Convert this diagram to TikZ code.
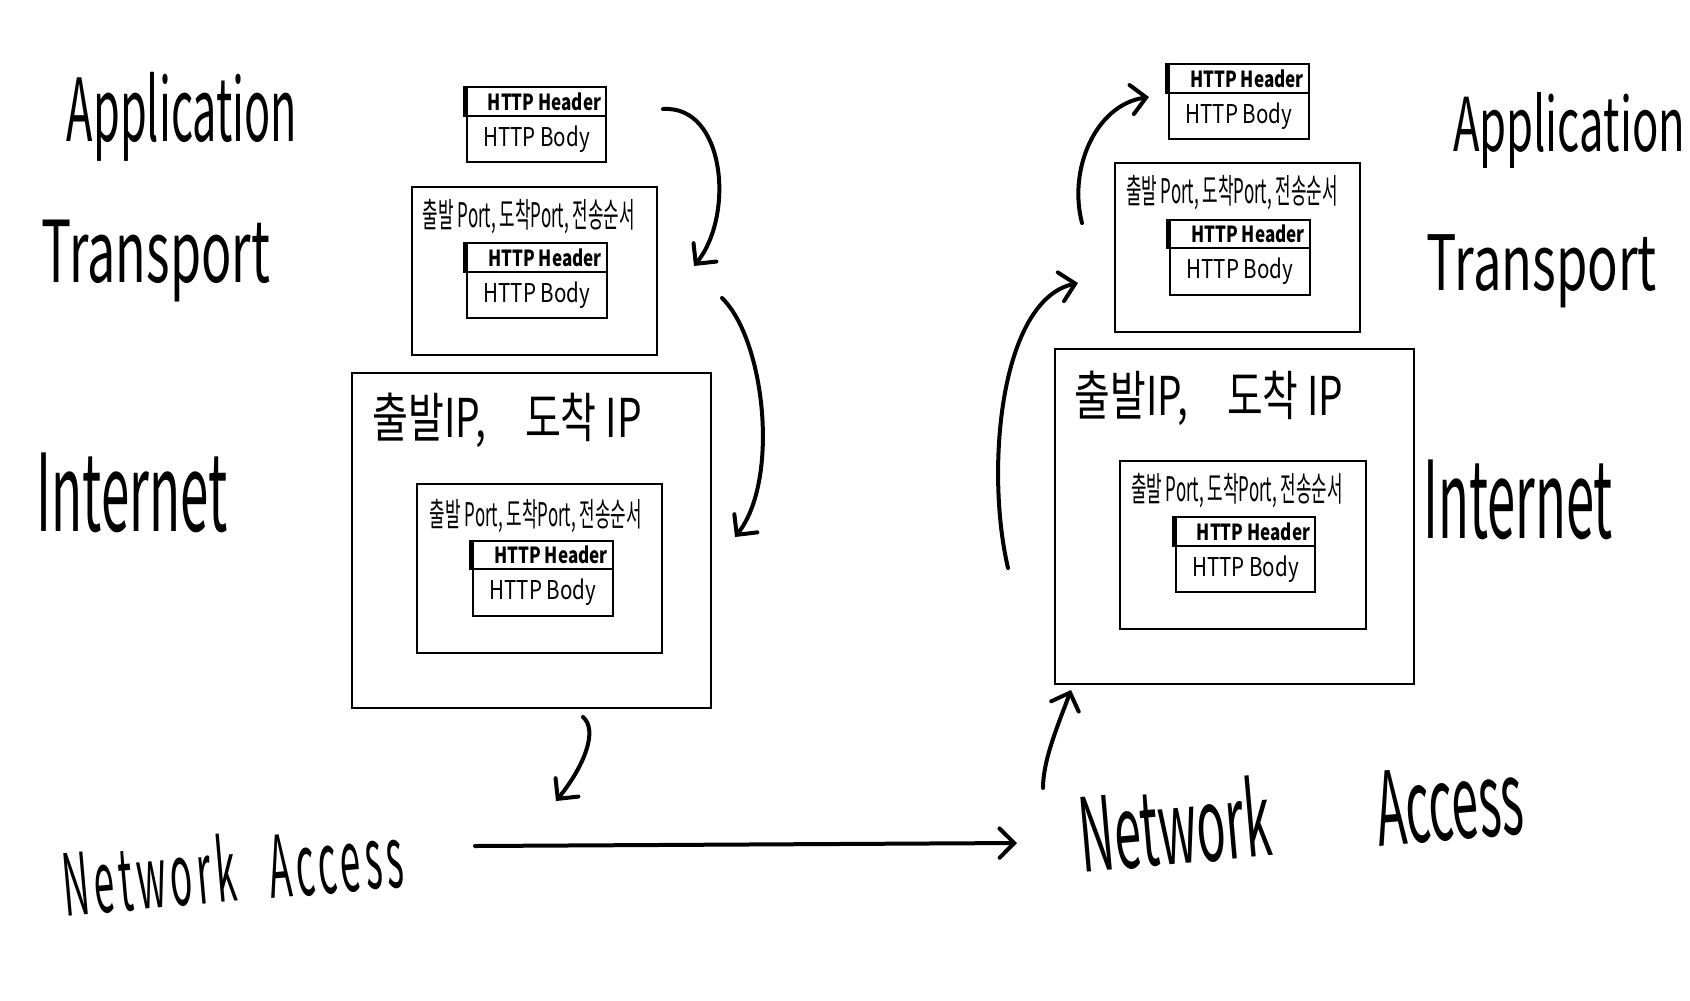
\documentclass[tikz,border=0pt]{standalone}
\usepackage{fontspec}
\setmainfont{Noto Sans CJK KR}
\newfontfamily\spacedfont[LetterSpace=12]{Noto Sans CJK KR}
\usepackage{graphicx}
\usetikzlibrary{fit,arrows.meta}
\newcommand\pkt[6]{%
  \node[box, fit={(#2,#3) (#4,#5)}] (#1h) {};
  \node[box, fit={(#2,#5) (#4,#6)}] (#1b) {};
  \draw[line width=4pt] (#1h.north west) -- (#1h.south west);
  \node[lbl] (#1ht) at ([xshift=6pt]#1h.center) {\resizebox*{85pt}{13.5pt}{\bfseries HTTP Header}};
  \node[lbl] (#1bt) at (#1b.center) {\resizebox*{80pt}{20pt}{HTTP Body}};
}
\begin{document}
\begin{tikzpicture}[x=0.75pt,y=-0.75pt,
  box/.style={draw, line width=2.2pt, inner sep=0pt},
  lbl/.style={inner sep=0pt},
  conn/.style={line width=3pt, line cap=round, -{Straight Barb[length=11pt, width=22pt, line cap=round]}},
]
\fill[white] (0,0) rectangle (1690,1000);
\useasboundingbox (0,0) rectangle (1690,1000);

% ---------- left stack ----------
\node[lbl] (appL) at (182,117) {\resizebox*{172.5pt}{66.8pt}{Application}};
\node[lbl] (trL) at (156,261) {\resizebox*{171pt}{61.5pt}{Transport}};
\node[lbl] (inL) at (132,493) {\resizebox*{143pt}{60pt}{Internet}};
\node[lbl, rotate=5] (naL) at (233,868) {\resizebox*{256pt}{52pt}{\spacedfont Network\hspace{0.9em}Access}};

\pkt{aL}{467}{87}{606}{116}{162}

\node[box, fit={(412,187) (657,355)}] (tL) {};
\node[lbl] (tLt) at (529,217) {\resizebox*{159pt}{26pt}{출발 Port, 도착Port, 전송순서}};
\pkt{tLp}{467}{243}{607}{272}{318}

\node[box, fit={(352,373) (711,708)}] (iL) {};
\node[lbl] (iLt) at (507,420) {\resizebox*{202pt}{41pt}{출발IP,\quad 도착 IP}};
\node[box, fit={(417,484) (662,653)}] (iLtr) {};
\node[lbl] (iLtrt) at (536,516) {\resizebox*{159pt}{25pt}{출발 Port, 도착Port, 전송순서}};
\pkt{iLp}{473}{541}{613}{569}{616}

% ---------- right stack ----------
\node[lbl] (appR) at (1569,130) {\resizebox*{174pt}{57pt}{Application}};
\node[lbl] (trR) at (1542,271) {\resizebox*{172.5pt}{55pt}{Transport}};
\node[lbl] (inR) at (1518,500) {\resizebox*{142pt}{60pt}{Internet}};
\node[lbl, rotate=5] (naR) at (1301,813) {\resizebox*{334pt}{62pt}{Network\hspace{2.2em}Access}};

\pkt{aR}{1169}{64}{1309}{93}{139}

\node[box, fit={(1115,163) (1360,332)}] (tR) {};
\node[lbl] (tRt) at (1232,193) {\resizebox*{159pt}{26pt}{출발 Port, 도착Port, 전송순서}};
\pkt{tRp}{1170}{220}{1310}{248}{295}

\node[box, fit={(1055,349) (1414,684)}] (iR) {};
\node[lbl] (iRt) at (1209,398) {\resizebox*{201pt}{41pt}{출발IP,\quad 도착 IP}};
\node[box, fit={(1120,461) (1366,629)}] (iRtr) {};
\node[lbl] (iRtrt) at (1237,491) {\resizebox*{159pt}{26pt}{출발 Port, 도착Port, 전송순서}};
\pkt{iRp}{1176}{517}{1315}{546}{592}

% ---------- connectors ----------
\coordinate (c1s) at (663,109);  \coordinate (c1e) at (694,266);
\coordinate (c2s) at (722,298);  \coordinate (c2e) at (735,537);
\coordinate (c3s) at (583,717);  \coordinate (c3e) at (556,801);
\coordinate (c4s) at (475,846);  \coordinate (c4e) at (1017,843);
\coordinate (c5s) at (1043,788); \coordinate (c5e) at (1071,690);
\coordinate (c6s) at (1008,568); \coordinate (c6e) at (1078,283);
\coordinate (c7s) at (1082,223); \coordinate (c7e) at (1149,97);

\draw[conn] (c1s) .. controls (725,105) and (735,215) .. (c1e);
\draw[conn] (c2s) .. controls (765,340) and (780,480) .. (c2e);
\draw[conn] (c3s) .. controls (598,730) and (585,765) .. (c3e);
\draw[conn] (c4s) -- (c4e);
\draw[conn] (c5s) .. controls (1043,760) and (1058,725) .. (c5e);
\draw[conn] (c6s) .. controls (985,470) and (1000,300) .. (c6e);
\draw[conn] (c7s) .. controls (1068,170) and (1095,105) .. (c7e);
\end{tikzpicture}
\end{document}
